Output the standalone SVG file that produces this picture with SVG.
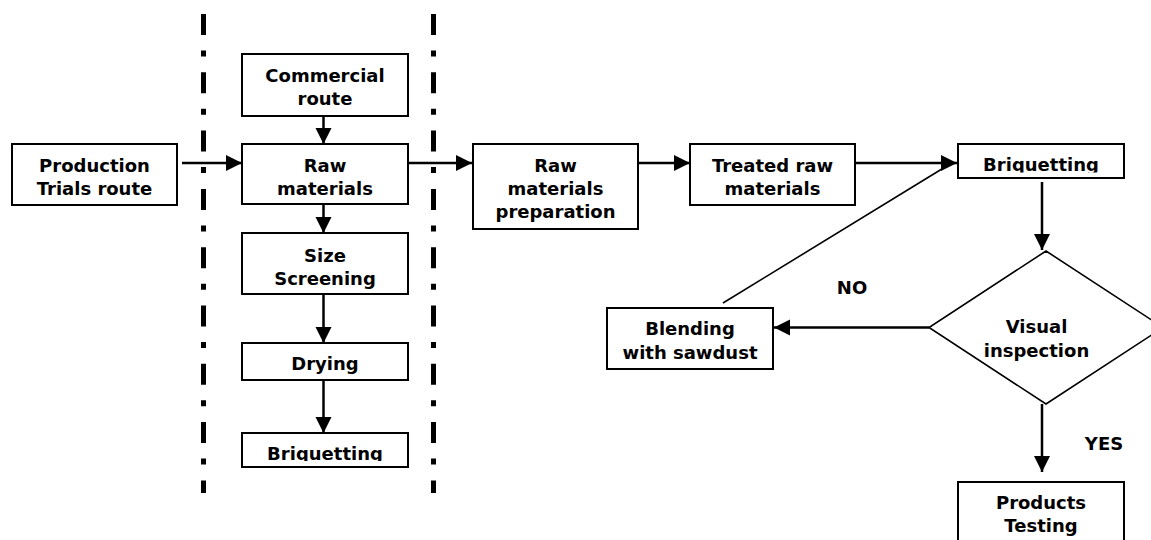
<svg xmlns="http://www.w3.org/2000/svg" width="1151" height="540" viewBox="0 0 1151 540">
<style>
.box{fill:#fff;stroke:#000;stroke-width:2}
.dia{fill:#fff;stroke:#000;stroke-width:1.6}
.lbl{font-family:"DejaVu Sans","Liberation Sans",sans-serif;font-weight:bold;font-size:18px;text-anchor:middle;fill:#000}
.conn{stroke:#000;stroke-width:2.5;fill:none;marker-end:url(#ah)}
.thin{stroke:#000;stroke-width:1.6;fill:none}
.sep{stroke:#000;stroke-width:5;fill:none;stroke-dasharray:21 15.5 6 15.8}
</style>
<defs>
<marker id="ah" markerUnits="userSpaceOnUse" markerWidth="17" markerHeight="17" refX="16" refY="8" orient="auto">
<path d="M0,0 L16,8 L0,16 Z" fill="#000"/>
</marker>
<clipPath id="clipB1"><rect x="243" y="434" width="164" height="27"/></clipPath>
<clipPath id="clipB2"><rect x="959" y="145" width="164" height="27.5"/></clipPath>
</defs>
<rect width="1151" height="540" fill="#fff"/>
<g id="separators">
<line class="sep" x1="203.5" y1="14" x2="203.5" y2="493"/>
<line class="sep" x1="433.5" y1="14" x2="433.5" y2="493"/>
</g>
<g id="connectors">
<line class="conn" x1="182" y1="163" x2="242" y2="163"/>
<line class="conn" x1="323.5" y1="115" x2="323.5" y2="144"/>
<line class="conn" x1="323.5" y1="203" x2="323.5" y2="233"/>
<line class="conn" x1="323.5" y1="293" x2="323.5" y2="343"/>
<line class="conn" x1="323.5" y1="381" x2="323.5" y2="433"/>
<line class="conn" x1="402" y1="163" x2="472" y2="163"/>
<line class="conn" x1="633" y1="163" x2="690" y2="163"/>
<line class="conn" x1="855" y1="163" x2="957" y2="163"/>
<line class="thin" x1="723" y1="303" x2="950" y2="164"/>
<line class="conn" x1="1042" y1="182" x2="1042" y2="250"/>
<line class="conn" x1="929" y1="327.5" x2="774" y2="327.5"/>
<line class="conn" x1="1042" y1="404" x2="1042" y2="472"/>
</g>
<g id="production">
<rect class="box" x="12" y="144" width="165" height="61"/>
<text class="lbl" x="94.5" y="172">Production</text>
<text class="lbl" x="94.5" y="195">Trials route</text>
</g>
<g id="commercial">
<rect class="box" x="242" y="54" width="166" height="62"/>
<text class="lbl" x="325" y="82">Commercial</text>
<text class="lbl" x="325" y="105">route</text>
</g>
<g id="raw">
<rect class="box" x="242" y="144" width="166" height="60"/>
<text class="lbl" x="325" y="172">Raw</text>
<text class="lbl" x="325" y="195">materials</text>
</g>
<g id="size">
<rect class="box" x="242" y="233" width="166" height="61"/>
<text class="lbl" x="325" y="262">Size</text>
<text class="lbl" x="325" y="285">Screening</text>
</g>
<g id="drying">
<rect class="box" x="242" y="343" width="166" height="37"/>
<text class="lbl" x="325" y="370">Drying</text>
</g>
<g id="briq1">
<rect class="box" x="242" y="433" width="166" height="34"/>
<text class="lbl" x="325" y="459.5" clip-path="url(#clipB1)">Briquetting</text>
</g>
<g id="prep">
<rect class="box" x="473" y="144" width="165" height="85"/>
<text class="lbl" x="555.5" y="171.5">Raw</text>
<text class="lbl" x="555.5" y="195">materials</text>
<text class="lbl" x="555.5" y="218">preparation</text>
</g>
<g id="treated">
<rect class="box" x="690" y="144" width="165" height="61"/>
<text class="lbl" x="772.5" y="171.5">Treated raw</text>
<text class="lbl" x="772.5" y="195">materials</text>
</g>
<g id="briq2">
<rect class="box" x="958" y="144" width="166" height="34"/>
<text class="lbl" x="1041" y="171" clip-path="url(#clipB2)">Briquetting</text>
</g>
<g id="visual">
<polygon class="dia" points="1046,251 1163,327.5 1046,404 929,327.5"/>
<text class="lbl" x="1036.5" y="333">Visual</text>
<text class="lbl" x="1036.5" y="357">inspection</text>
</g>
<g id="blending">
<rect class="box" x="607" y="308" width="166" height="61"/>
<text class="lbl" x="690" y="335">Blending</text>
<text class="lbl" x="690" y="359">with sawdust</text>
</g>
<g id="products">
<rect class="box" x="958" y="482" width="166" height="70"/>
<text class="lbl" x="1041" y="509">Products</text>
<text class="lbl" x="1041" y="532">Testing</text>
</g>
<g id="labels">
<text class="lbl" x="852" y="294">NO</text>
<text class="lbl" x="1104" y="450">YES</text>
</g>
</svg>
